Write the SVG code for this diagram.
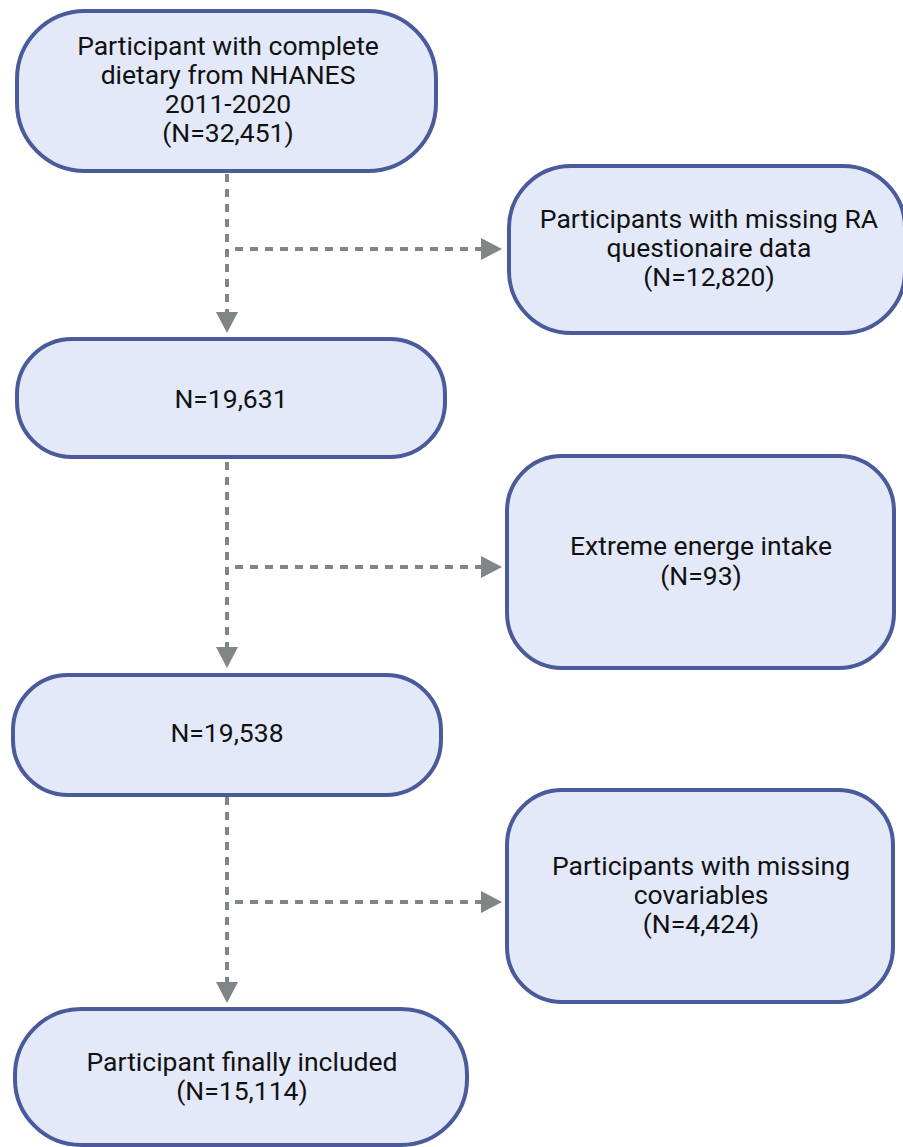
<svg xmlns="http://www.w3.org/2000/svg" width="903" height="1147" viewBox="0 0 903 1147">
<style>
.box{fill:#e4e9f9;stroke:#4a5a9a;stroke-width:4}
.t{font-family:Roboto,"Liberation Sans",sans-serif;font-size:26.5px;fill:#111;text-anchor:middle}
.c{fill:none;stroke:#808587;stroke-width:4;stroke-dasharray:8 7}
</style>
<defs>
<marker id="ah" markerUnits="userSpaceOnUse" markerWidth="21" markerHeight="22" viewBox="0 0 21 22" refX="0" refY="11" orient="auto">
<path d="M0,0 L21,11 L0,22 z" fill="#808587"/>
</marker>
</defs>
<g id="connectors">
<path class="c" d="M227,174 V312" marker-end="url(#ah)"/>
<path class="c" d="M235,249 H481" marker-end="url(#ah)"/>
<path class="c" d="M227,462 V647" marker-end="url(#ah)"/>
<path class="c" d="M235,567 H481" marker-end="url(#ah)"/>
<path class="c" d="M227,797 V982" marker-end="url(#ah)"/>
<path class="c" d="M235,902 H481" marker-end="url(#ah)"/>
</g>
<g id="n1">
<rect class="box" x="17" y="11" width="419" height="160" rx="68"/>
<text class="t" x="228" y="55">Participant with complete</text>
<text class="t" x="228" y="84">dietary from NHANES</text>
<text class="t" x="228" y="113">2011-2020</text>
<text class="t" x="228" y="142">(N=32,451)</text>
</g>
<g id="n2">
<rect class="box" x="509" y="166" width="396" height="167" rx="62"/>
<text class="t" x="709" y="228">Participants with missing RA</text>
<text class="t" x="709" y="257">questionaire data</text>
<text class="t" x="709" y="286">(N=12,820)</text>
</g>
<g id="n3">
<rect class="box" x="17" y="339" width="428" height="118" rx="55"/>
<text class="t" x="231" y="408">N=19,631</text>
</g>
<g id="n4">
<rect class="box" x="507" y="456" width="387" height="212" rx="55"/>
<text class="t" x="701" y="555">Extreme energe intake</text>
<text class="t" x="701" y="585">(N=93)</text>
</g>
<g id="n5">
<rect class="box" x="13" y="675" width="428" height="120" rx="55"/>
<text class="t" x="227" y="742">N=19,538</text>
</g>
<g id="n6">
<rect class="box" x="507" y="790" width="386" height="212" rx="55"/>
<text class="t" x="701" y="875">Participants with missing</text>
<text class="t" x="701" y="904">covariables</text>
<text class="t" x="701" y="933">(N=4,424)</text>
</g>
<g id="n7">
<rect class="box" x="15" y="1009" width="452" height="136" rx="66"/>
<text class="t" x="242" y="1071">Participant finally included</text>
<text class="t" x="242" y="1100">(N=15,114)</text>
</g>
</svg>
